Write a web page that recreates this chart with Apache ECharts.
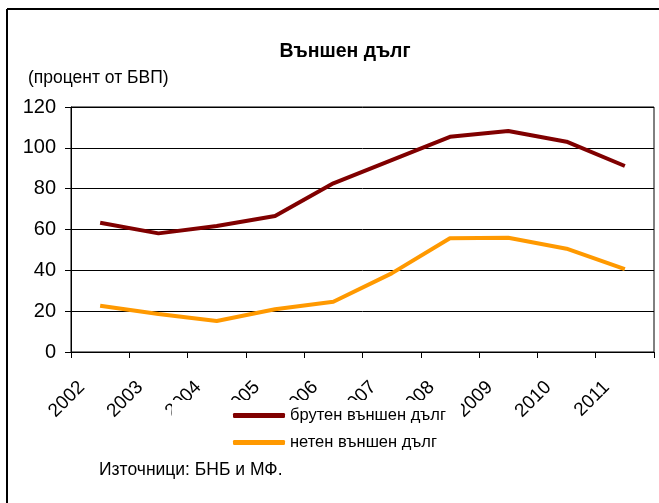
<!DOCTYPE html>
<html>
<head>
<meta charset="utf-8">
<script src="https://cdn.jsdelivr.net/npm/echarts@6/dist/echarts.min.js"></script>
<style>
  html, body { margin: 0; padding: 0; background: #fff; }
  #chart { width: 659px; height: 503px; }
</style>
</head>
<body>
<div id="chart"></div>
<script>
const years = ["2002", "2003", "2004", "2005", "2006", "2007", "2008", "2009", "2010", "2011"]
const grossDebt = [63.3, 58.1, 61.7, 66.6, 82.6, 94, 105.4, 108.2, 103, 91.1]
const netDebt = [22.7, 18.6, 15.2, 20.9, 24.6, 38.5, 55.7, 56, 50.6, 40.6]
const seriesNames = ["брутен външен дълг", "нетен външен дълг"]

const font = "Liberation Sans, Arial, sans-serif"
const myChart = echarts.init(document.getElementById("chart"))

myChart.setOption({
  animation: false,
  backgroundColor: "#fff",
  textStyle: { fontFamily: font },
  title: {
    text: "Външен дълг",
    left: 340,
    textAlign: "center",
    top: 37,
    textStyle: { fontFamily: font, fontSize: 19.5, fontWeight: "bold", color: "#000" }
  },
  graphic: [
    // outer frame (only left and top visible)
    { type: "line", shape: { x1: 7, y1: 9, x2: 7, y2: 503 }, style: { stroke: "#000", lineWidth: 2 } },
    { type: "line", shape: { x1: 7, y1: 9, x2: 659, y2: 9 }, style: { stroke: "#000", lineWidth: 2 } },
    { type: "text", left: 28, top: 69, style: { text: "(процент от БВП)", font: "17.5px " + font, fill: "#000" } },
    { type: "text", left: 99, top: 461, style: { text: "Източници: БНБ и МФ.", font: "17.5px " + font, fill: "#000" } }
  ],
  legend: {
    orient: "vertical",
    left: 172,
    top: 400,
    padding: [7, 15, 4, 61],
    backgroundColor: "#fff",
    itemWidth: 52,
    itemHeight: 5,
    itemGap: 10,
    icon: "roundRect",
    textStyle: { fontFamily: font, fontSize: 16.5, color: "#000" },
    data: seriesNames
  },
  grid: {
    left: 71,
    right: 5,
    top: 107,
    bottom: 151,
    show: true,
    borderColor: "#000",
    borderWidth: 1
  },
  xAxis: {
    type: "category",
    data: years,
    boundaryGap: true,
    axisLine: { lineStyle: { color: "#000", width: 1 } },
    axisTick: { show: true, length: 6, lineStyle: { color: "#000" } },
    axisLabel: {
      rotate: 45,
      margin: 14,
      padding: [0, 26, 0, 0],
      fontSize: 19,
      color: "#000",
      fontFamily: font
    }
  },
  yAxis: {
    type: "value",
    min: 0,
    max: 120,
    interval: 20,
    axisLine: { show: true, lineStyle: { color: "#000" } },
    axisTick: { show: true, length: 6, lineStyle: { color: "#000" } },
    axisLabel: { fontSize: 20, color: "#000", margin: 15, fontFamily: font },
    splitLine: { lineStyle: { color: "#000", width: 1 } }
  },
  series: [
    {
      name: seriesNames[0],
      type: "line",
      data: grossDebt,
      symbol: "none",
      color: "#800000",
      lineStyle: { width: 4, color: "#800000" }
    },
    {
      name: seriesNames[1],
      type: "line",
      data: netDebt,
      symbol: "none",
      color: "#ff9900",
      lineStyle: { width: 4, color: "#ff9900" }
    }
  ]
})
</script>
</body>
</html>
